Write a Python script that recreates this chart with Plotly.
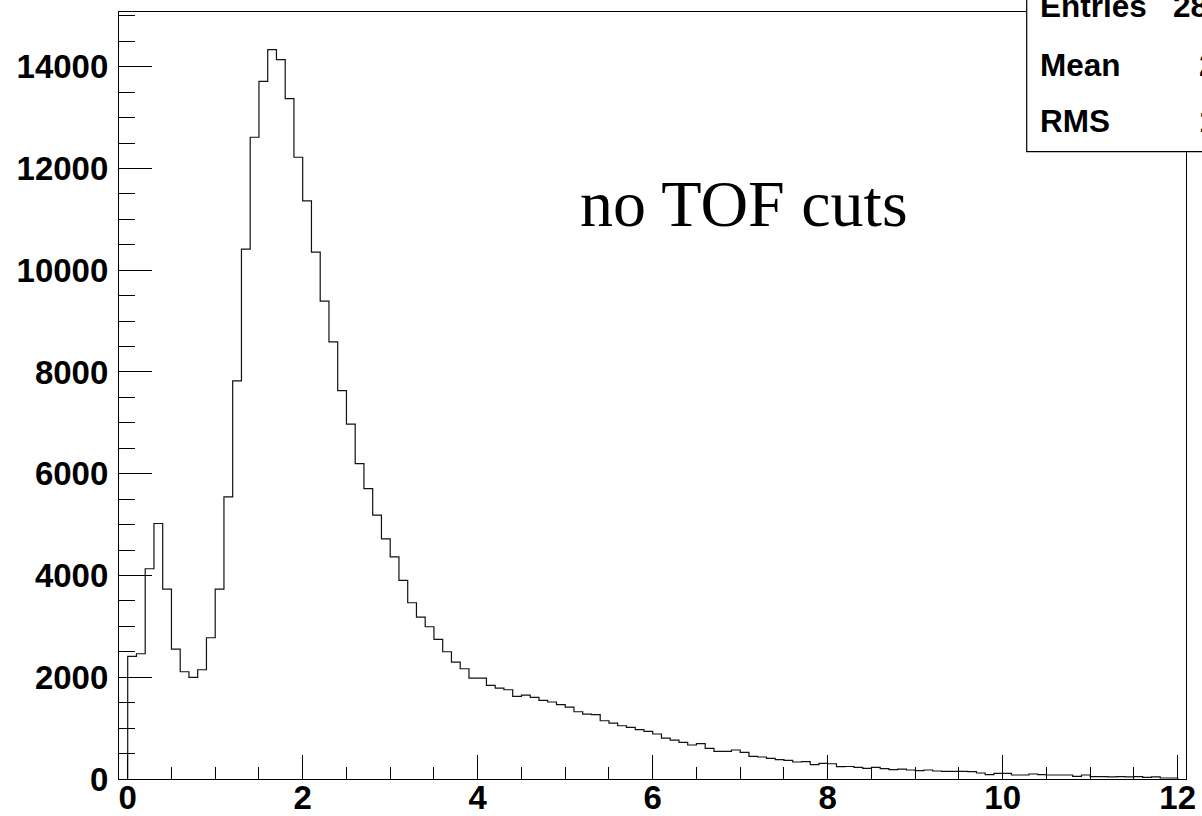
import numpy as np
import plotly.graph_objects as go

# Histogram binning: 120 bins of width 0.1 from 0 to 12
bin_lo = 0.0
bin_width = 0.1

# Bin contents
counts = [
    2409, 2462, 4132, 5022, 3733, 2554, 2108, 1996, 2147, 2776,
    3733, 5546, 7825, 10413, 12613, 13713, 14334, 14138, 13371, 12220,
    11361, 10354, 9391, 8591, 7635, 6974, 6200, 5709, 5187, 4721,
    4367, 3902, 3464, 3183, 2992, 2743, 2501, 2299, 2167, 1984,
    1984, 1839, 1788, 1754, 1623, 1650, 1603, 1544, 1513, 1460,
    1414, 1322, 1277, 1264, 1145, 1100, 1047, 1014, 969, 935,
    884, 805, 766, 719, 668, 694, 601, 542, 542, 570,
    523, 444, 432, 405, 379, 365, 334, 340, 281, 307,
    300, 242, 246, 229, 209, 229, 203, 183, 196, 177,
    164, 177, 157, 151, 151, 151, 144, 118, 85, 111,
    111, 79, 79, 98, 85, 79, 79, 79, 52, 79,
    46, 46, 40, 46, 40, 46, 33, 40, 20, 20,
]

x_ticks = [0, 2, 4, 6, 8, 10, 12]
y_ticks = [0, 2000, 4000, 6000, 8000, 10000, 12000, 14000]
label_text = "no TOF cuts"
stat_names = ["Entries", "Mean", "RMS"]

counts = np.array(counts, dtype=float)
n_bins = len(counts)
edges = bin_lo + bin_width * np.arange(n_bins + 1)
centers = 0.5 * (edges[:-1] + edges[1:])

# Statistics box values
entries = int(round(counts.sum()))
mean = float((counts * centers).sum() / counts.sum())
rms = float(np.sqrt((counts * (centers - mean) ** 2).sum() / counts.sum()))
stat_values = [f"{entries}", f"{mean:.4g}", f"{rms:.4g}"]

# Step outline of the histogram
xs = np.concatenate([[edges[0]], edges[:-1], [edges[-1]], [edges[-1]]])
ys = np.concatenate([[0], counts, [counts[-1]], [0]])

fig = go.Figure()
fig.add_trace(go.Scatter(
    x=xs, y=ys, mode="lines", line=dict(shape="hv", color="#111111", width=1.2),
    hoverinfo="skip", showlegend=False,
))

tick_font = dict(family="Liberation Sans, Arial, sans-serif", size=33, color="black", weight="bold")

fig.update_layout(
    width=1202, height=816,
    margin=dict(l=119, r=16, t=12, b=37),
    paper_bgcolor="white", plot_bgcolor="white",
    showlegend=False,
    xaxis=dict(
        range=[-0.0994, 12.0949], tickvals=x_ticks, ticktext=[str(v) for v in x_ticks],
        ticks="inside", ticklen=24, tickwidth=1.2, tickcolor="black",
        minor=dict(dtick=0.5, tick0=0, ticks="inside", ticklen=12, tickwidth=1.2, tickcolor="black"),
        showgrid=False, zeroline=False, showline=True, linecolor="black", linewidth=1.2, mirror=True,
        tickfont=tick_font, automargin=False, ticklabelstandoff=-11,
    ),
    yaxis=dict(
        range=[0, 15075], tickvals=y_ticks, ticktext=[str(v) for v in y_ticks],
        ticks="inside", ticklen=33, tickwidth=1.2, tickcolor="black",
        minor=dict(dtick=500, tick0=0, ticks="inside", ticklen=16, tickwidth=1.2, tickcolor="black"),
        showgrid=False, zeroline=False, showline=True, linecolor="black", linewidth=1.2, mirror=True,
        tickfont=tick_font, automargin=False, ticklabelstandoff=3,
    ),
)

# Plot label
fig.add_annotation(
    x=0.4299, y=0.7505, xref="paper", yref="paper", xanchor="left", yanchor="middle",
    text=label_text, showarrow=False,
    font=dict(family="Liberation Serif, Times New Roman, serif", size=66, color="black"),
)

# Statistics box
fig.add_shape(
    type="rect", xref="paper", yref="paper", x0=0.8507, x1=1.3, y0=0.8179, y1=1.2,
    line=dict(color="black", width=1.2), fillcolor="white", layer="above",
)
stat_font = dict(family="Liberation Sans, Arial, sans-serif", size=31.5, color="black", weight="bold")
for name, value, yy in zip(stat_names, stat_values, [1.0073, 0.9308, 0.8582]):
    fig.add_annotation(x=0.8612, y=yy, xref="paper", yref="paper", xanchor="left", yanchor="middle",
                       text=name, showarrow=False, font=stat_font)
    fig.add_annotation(x=1.0881, y=yy, xref="paper", yref="paper", xanchor="right", yanchor="middle",
                       text=value, showarrow=False, font=stat_font, align="right")

fig.write_html("out.html")
